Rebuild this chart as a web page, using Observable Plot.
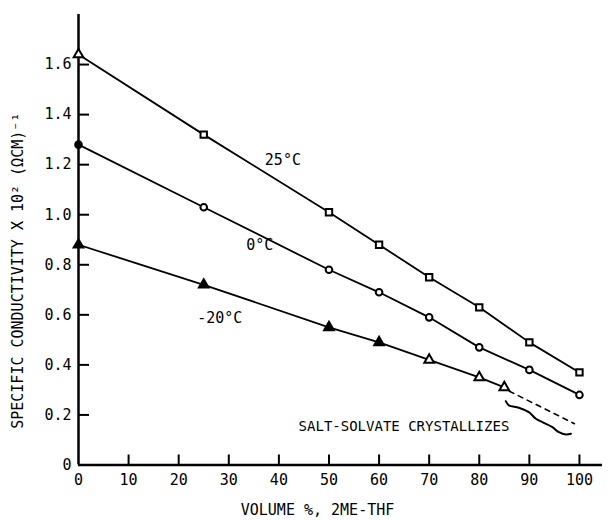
<!DOCTYPE html>
<html>
<head>
<meta charset="utf-8">
<script src="https://cdn.jsdelivr.net/npm/d3@7"></script>
<script src="https://cdn.jsdelivr.net/npm/@observablehq/plot@0.6"></script>
<style>
  body { margin: 0; background: white; }
  svg { display: block; }
</style>
</head>
<body>
<div id="chart"></div>
<script>
// Data
const volume = [0, 25, 50, 60, 70, 80, 90, 100];
const cond25 = [1.64, 1.32, 1.01, 0.88, 0.75, 0.63, 0.49, 0.37];
const cond0 = [1.28, 1.03, 0.78, 0.69, 0.59, 0.47, 0.38, 0.28];
const volumeM20 = [0, 25, 50, 60, 70, 80, 85];
const condM20 = [0.88, 0.72, 0.55, 0.49, 0.42, 0.35, 0.31];

const sym25 = ["triangle", "square", "square", "square", "square", "square", "square", "square"];
const fill0 = [1, 0, 0, 0, 0, 0, 0, 0];
const fillM20 = [1, 1, 1, 1, 0, 0, 0];

const dashX = [86, 99];
const dashY = [0.295, 0.165];

const braceX = [85.3, 85.9, 87.9, 89.9, 91.3, 92.6, 94.6, 95.9, 97.3, 98.3];
const braceY = [0.255, 0.238, 0.229, 0.211, 0.185, 0.171, 0.151, 0.131, 0.122, 0.125];

const seriesLabels = ["25°C", "0°C", "-20°C"];
const seriesLabelX = [40.8, 36.2, 28.2];
const seriesLabelY = [1.218, 0.878, 0.586];

const noteText = "SALT-SOLVATE CRYSTALLIZES";
const noteX = 86;
const noteY = 0.154;

const xTicks = [0, 10, 20, 30, 40, 50, 60, 70, 80, 90, 100];
const yTicks = [0, 0.2, 0.4, 0.6, 0.8, 1.0, 1.2, 1.4, 1.6];
const xLabel = "VOLUME %, 2ME-THF";
const yLabel = "SPECIFIC CONDUCTIVITY X 10² (ΩCM)⁻¹";

const xMax = 104.6, yMax = 1.8;

const s25 = volume.map((v, i) => ({x: v, y: cond25[i], s: sym25[i]}));
const s0 = volume.map((v, i) => ({x: v, y: cond0[i], f: fill0[i]}));
const sM20 = volumeM20.map((v, i) => ({x: v, y: condM20[i], f: fillM20[i]}));
const dash = dashX.map((v, i) => ({x: v, y: dashY[i]}));
const brace = braceX.map((v, i) => ({x: v, y: braceY[i]}));
const lbls = seriesLabels.map((t, i) => ({t, x: seriesLabelX[i], y: seriesLabelY[i]}));

const font = "'DejaVu Sans Mono', 'Liberation Mono', monospace";

const chart = Plot.plot({
  width: 615,
  height: 520,
  marginLeft: 78,
  marginRight: 13,
  marginTop: 14,
  marginBottom: 55.5,
  x: {domain: [0, xMax]},
  y: {domain: [0, yMax]},
  style: {fontFamily: font, fontSize: "15px", background: "white", color: "black"},
  marks: [
    Plot.axisX({ticks: xTicks, tickSize: 0, tickPadding: 9, label: null, fontSize: 15}),
    Plot.axisY({ticks: yTicks, tickSize: 0, tickPadding: 7, label: null, fontSize: 15,
      tickFormat: d => d === 0 ? "0" : d.toFixed(1)}),
    Plot.ruleX([0], {y1: 0, y2: yMax, strokeWidth: 2.5}),
    Plot.ruleY([0], {x1: 0, x2: xMax, strokeWidth: 2.5}),
    Plot.ruleX(xTicks.filter(d => d > 0), {y1: 0, y2: 0.04, strokeWidth: 2}),
    Plot.ruleY(yTicks.filter(d => d > 0), {x1: 0, x2: 2.2, strokeWidth: 2}),
    Plot.line(s25, {x: "x", y: "y", strokeWidth: 1.8}),
    Plot.line(s0, {x: "x", y: "y", strokeWidth: 1.8}),
    Plot.line(sM20, {x: "x", y: "y", strokeWidth: 1.8}),
    Plot.line(dash, {x: "x", y: "y", strokeWidth: 1.6, strokeDasharray: "5,5"}),
    Plot.line(brace, {x: "x", y: "y", strokeWidth: 2, curve: "catmull-rom"}),
    Plot.dot(s25, {x: "x", y: "y", symbol: "s", r: 3.6, stroke: "black", fill: "white", strokeWidth: 2}),
    Plot.dot(s0, {x: "x", y: "y", symbol: "circle", r: 3.3, stroke: "black",
      fill: d => d.f ? "black" : "white", strokeWidth: 2}),
    Plot.dot(sM20, {x: "x", y: "y", symbol: "triangle", r: 3.6, stroke: "black",
      fill: d => d.f ? "black" : "white", strokeWidth: 2}),
    Plot.text(lbls, {x: "x", y: "y", text: "t", fontSize: 15, fill: "black"}),
    Plot.text([noteText], {x: noteX, y: noteY, text: d => d, textAnchor: "end", fontSize: 14, fill: "black"}),
    Plot.text([xLabel], {frameAnchor: "bottom", textAnchor: "middle", lineAnchor: "middle",
      dx: -23, dy: 45.5, text: d => d, fontSize: 15, fill: "black"}),
    Plot.text([yLabel], {frameAnchor: "left", textAnchor: "middle", lineAnchor: "middle",
      dx: -60, dy: 31, rotate: -90, text: d => d, fontSize: 15, fill: "black"})
  ]
});
document.getElementById("chart").appendChild(chart);
</script>
</body>
</html>
